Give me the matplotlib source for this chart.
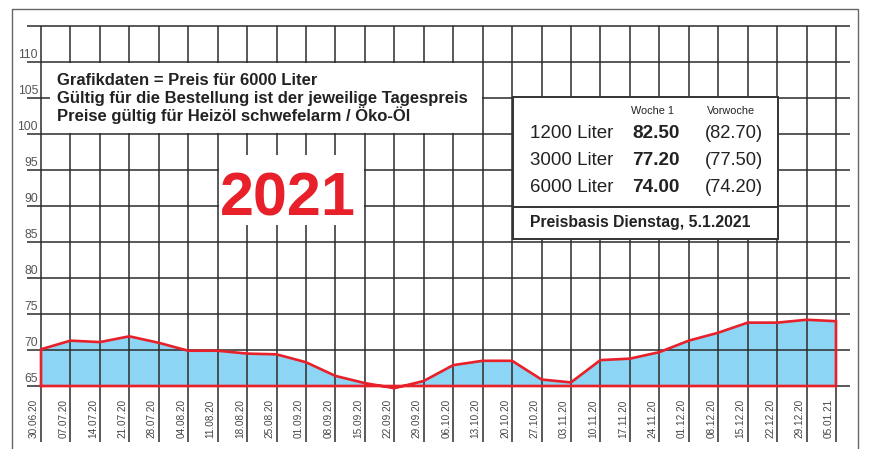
import matplotlib
matplotlib.use('Agg')
import matplotlib.pyplot as plt
from matplotlib.patches import Rectangle

# Heizoel Preisverlauf, 6000 Liter
datum = ['30.06.20', '07.07.20', '14.07.20', '21.07.20', '28.07.20', '04.08.20',
         '11.08.20', '18.08.20', '25.08.20', '01.09.20', '08.09.20', '15.09.20',
         '22.09.20', '29.09.20', '06.10.20', '13.10.20', '20.10.20', '27.10.20',
         '03.11.20', '10.11.20', '17.11.20', '24.11.20', '01.12.20', '08.12.20',
         '15.12.20', '22.12.20', '29.12.20', '05.01.21']
preis = [70.1, 71.3, 71.1, 71.9, 71.0, 69.9, 69.9, 69.5, 69.4, 68.3, 66.4, 65.4,
         64.7, 65.7, 67.9, 68.5, 68.5, 65.9, 65.5, 68.6, 68.8, 69.7, 71.3, 72.4,
         73.8, 73.8, 74.2, 74.0]
y_ticks = [65, 70, 75, 80, 85, 90, 95, 100, 105, 110]

mengen = ['1200 Liter', '3000 Liter', '6000 Liter']
woche1 = ['82.50', '77.20', '74.00']
vorwoche = ['(82.70)', '(77.50)', '(74.20)']

FONT = ['Liberation Sans', 'DejaVu Sans']
ROT = '#e8202a'
BLAU = '#8dd5f4'
GRID = '#2b2b2b'
GRAU = '#555555'
TXT = '#222222'

W, H = 874, 449
X0, DX = 41, 29.444   # pixel position of first week, spacing
Y65, DY = 386, 7.2    # pixel position of 65, pixels per unit


def px_x(p):
    return (p - X0) / DX


def px_y(p):
    return 65 + (Y65 - p) / DY


fig = plt.figure(figsize=(W / 100, H / 100), dpi=100)
ax = fig.add_axes([0, 0, 1, 1])
ax.set_xlim(px_x(0), px_x(W))
ax.set_ylim(px_y(H), px_y(0))
ax.axis('off')

n = len(datum)
xs = list(range(n))

# fill
ax.fill_between(xs, 65, preis, color=BLAU, lw=0, zorder=1)

# grid
ax.hlines(y_ticks + [115], px_x(27), px_x(850), color=GRID, lw=1.1, zorder=2)
ax.vlines(xs, px_y(442), 115, color=GRID, lw=1.1, zorder=2)

# red outline
ax.plot([0] + xs + [n - 1, 0], [65] + preis + [65, 65], color=ROT, lw=1.9,
        solid_joinstyle='miter', zorder=4)

# outer frame
ax.plot([px_x(12), px_x(12), px_x(858), px_x(858)],
        [px_y(H), px_y(9), px_y(9), px_y(H)], color='#666666', lw=1.0, zorder=2)

# y labels
for v in y_ticks:
    ax.text(px_x(38), v + 0.55, str(v), ha='right', va='baseline', fontsize=8.8,
            color=GRAU, family=FONT, zorder=5)

# date labels
for i, d in enumerate(datum):
    ax.text(i - 2 / DX, px_y(438), d, rotation=90, ha='right', va='bottom',
            fontsize=7.2, color='#444444', family=FONT, zorder=5)

# text box top left
ax.add_patch(Rectangle((px_x(50), 100.15), px_x(482) - px_x(50), 9.7,
                       facecolor='white', edgecolor='none', zorder=3))
zeilen = ['Grafikdaten = Preis für 6000 Liter',
          'Gültig für die Bestellung ist der jeweilige Tagespreis',
          'Preise gültig für Heizöl schwefelarm / Öko-Öl']
for k, z in enumerate(zeilen):
    ax.text(px_x(57), px_y(85 + 18 * k), z, ha='left', va='baseline',
            fontsize=12, fontweight='bold', color=TXT, family=FONT, zorder=5)

# year
ax.add_patch(Rectangle((6.03, 87.4), 4.94, 9.7, facecolor='white',
                       edgecolor='none', zorder=3))
ax.text(px_x(220), px_y(215), '2021', ha='left', va='baseline', fontsize=44,
        fontweight='bold', color=ROT, family=FONT, zorder=5)

# price box right
bx0, bx1, by0, by1 = px_x(513), px_x(778), px_y(239), px_y(97)
ax.add_patch(Rectangle((bx0, by0), bx1 - bx0, by1 - by0, facecolor='white',
                       edgecolor='#333333', lw=1.4, zorder=5))
ax.plot([bx0, bx1], [px_y(207), px_y(207)], color='#333333', lw=1.4, zorder=6)
ax.text(px_x(652), px_y(111), 'Woche 1', ha='center', va='center', fontsize=7.8,
        color=TXT, family=FONT, zorder=6)
ax.text(px_x(731), px_y(111), 'Vorwoche', ha='center', va='center', fontsize=7.8,
        color=TXT, family=FONT, zorder=6)
for k in range(len(mengen)):
    yy = px_y(133 + 27 * k)
    ax.text(px_x(530), yy, mengen[k], ha='left', va='center', fontsize=13.5,
            color=TXT, family=FONT, zorder=6)
    ax.text(px_x(632), yy, woche1[k], ha='left', va='center', fontsize=13.7,
            fontweight='bold', color=TXT, family=FONT, zorder=6)
    ax.text(px_x(705), yy, vorwoche[k], ha='left', va='center', fontsize=13.2,
            color=TXT, family=FONT, zorder=6)
ax.text(px_x(530), px_y(222), 'Preisbasis Dienstag, 5.1.2021', ha='left',
        va='center', fontsize=11.3, fontweight='bold', color=TXT,
        family=FONT, zorder=6)

plt.savefig('out.png', dpi=100)
plt.close()
